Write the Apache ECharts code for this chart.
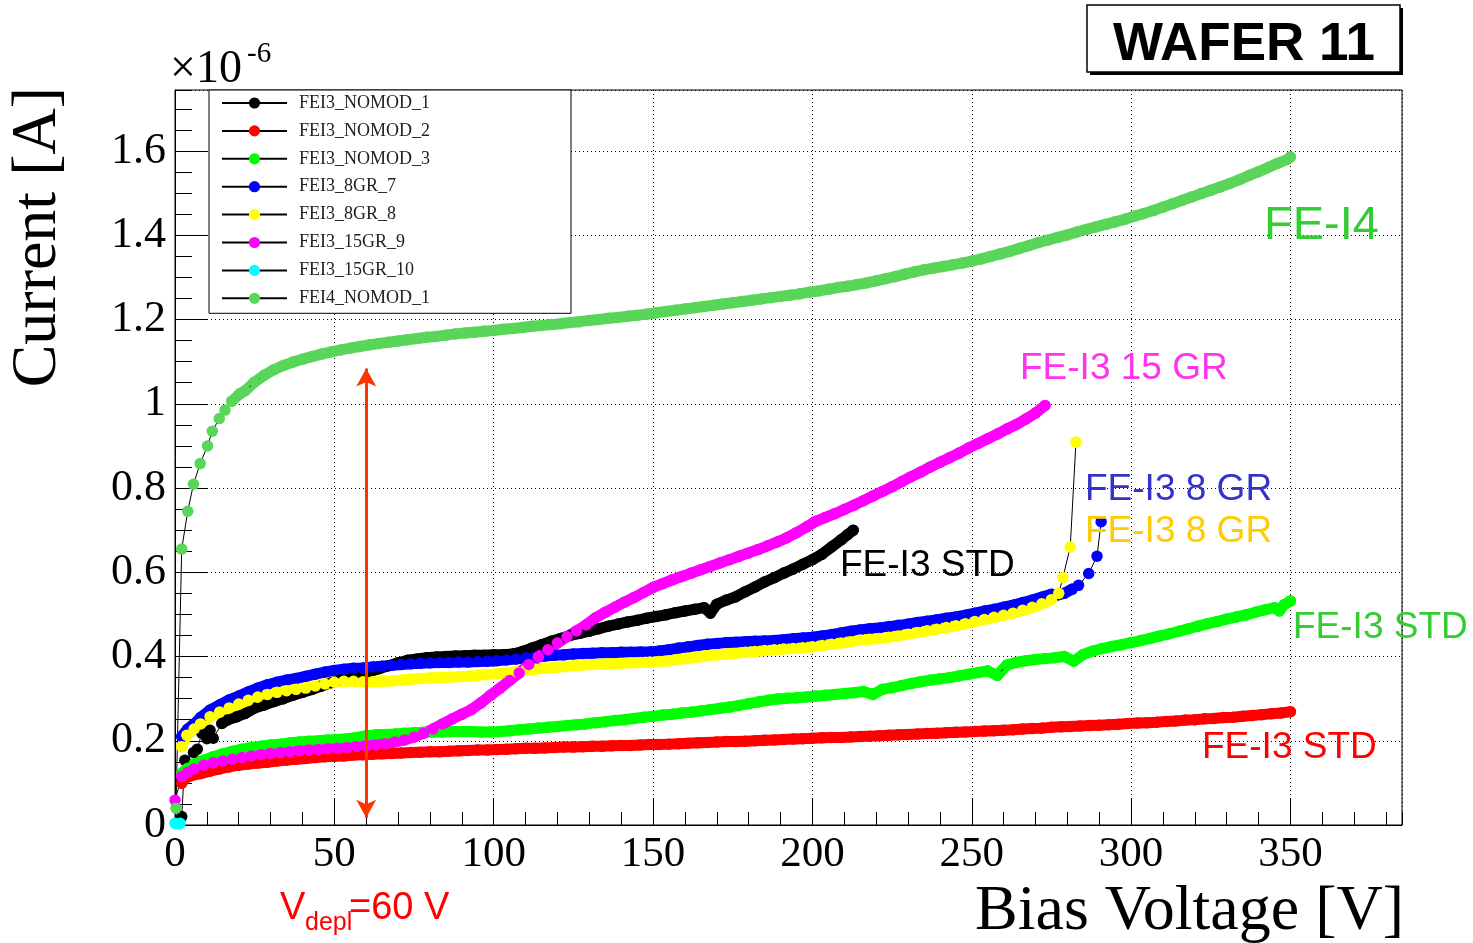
<!DOCTYPE html>
<html><head><meta charset="utf-8">
<script src="https://cdn.jsdelivr.net/npm/echarts@6/dist/echarts.min.js"></script>
<style>html,body{margin:0;padding:0;background:#fff}#c{width:1473px;height:943px}</style>
</head><body><div id="c"></div>
<script>
// ---------- DATA (current in units of 1e-6 A, voltage in V) ----------
const seriesNames = ['FEI3_NOMOD_1','FEI3_NOMOD_2','FEI3_NOMOD_3','FEI3_8GR_7','FEI3_8GR_8','FEI3_15GR_9','FEI3_15GR_10','FEI4_NOMOD_1'];
const seriesColors = ['#000000','#ff0000','#00ff00','#0000ff','#ffff00','#ff00ff','#00ffff','#59d659'];

const fei3Nomod1 = [[2.1,0.02],[3.1,0.154],[5.8,0.172],[7.0,0.180],[8.4,0.218],[10.0,0.205],[11.0,0.225],[12.0,0.206],[14.7,0.241],[16.3,0.249],[19.4,0.257],[22,0.265],[25,0.278],[28,0.285],[31,0.293],[34,0.300],[37,0.308],[40,0.315],[43,0.322],[46,0.330],[49,0.338],[52,0.345],[55,0.352],[58,0.358],[61,0.364],[64,0.371],[67,0.378],[70,0.385],[73,0.391],[76,0.394],[79,0.397],[82,0.399],[85,0.400],[88,0.401],[91,0.402],[94,0.403],[97,0.403],[100,0.404],[103,0.404],[106,0.406],[109,0.412],[112,0.420],[115,0.428],[118,0.436],[121,0.443],[124,0.450],[127,0.455],[130,0.460],[133,0.466],[136,0.472],[139,0.477],[142,0.482],[145,0.486],[148,0.491],[151,0.495],[154,0.499],[157,0.504],[160,0.508],[163,0.512],[166,0.516],[168,0.503],[170,0.524],[173,0.534],[176,0.542],[179,0.554],[182,0.565],[185,0.577],[188,0.587],[191,0.598],[194,0.608],[197,0.619],[200,0.630],[203,0.643],[206,0.660],[209,0.677],[211,0.689],[212.8,0.700]];

const fei3Nomod2 = [[2.1,0.099],[3,0.110],[5,0.117],[8,0.122],[11,0.128],[14,0.133],[17,0.138],[20,0.142],[23,0.145],[26,0.147],[29,0.149],[32,0.152],[35,0.154],[38,0.156],[41,0.158],[44,0.160],[47,0.162],[50,0.163],[53,0.164],[56,0.166],[59,0.167],[62,0.168],[65,0.169],[68,0.170],[71,0.171],[74,0.172],[77,0.173],[80,0.174],[83,0.174],[86,0.175],[89,0.176],[92,0.177],[95,0.178],[98,0.178],[101,0.179],[104,0.180],[107,0.181],[110,0.182],[113,0.182],[116,0.183],[119,0.184],[122,0.185],[125,0.185],[128,0.186],[131,0.187],[134,0.187],[137,0.188],[140,0.189],[143,0.189],[146,0.190],[149,0.191],[152,0.191],[155,0.192],[158,0.193],[161,0.194],[164,0.195],[167,0.196],[170,0.197],[173,0.198],[176,0.198],[179,0.199],[182,0.200],[185,0.201],[188,0.202],[191,0.203],[194,0.204],[197,0.205],[200,0.206],[203,0.207],[206,0.208],[209,0.208],[212,0.209],[215,0.210],[218,0.211],[221,0.212],[224,0.213],[227,0.214],[230,0.215],[233,0.216],[236,0.217],[239,0.218],[242,0.219],[245,0.220],[248,0.221],[251,0.222],[254,0.223],[257,0.224],[260,0.225],[263,0.226],[266,0.228],[269,0.229],[272,0.230],[275,0.232],[278,0.233],[281,0.234],[284,0.235],[287,0.236],[290,0.237],[293,0.238],[296,0.239],[299,0.241],[302,0.242],[305,0.243],[308,0.244],[311,0.246],[314,0.247],[317,0.249],[320,0.250],[323,0.252],[326,0.253],[329,0.255],[332,0.256],[335,0.258],[338,0.260],[341,0.262],[344,0.264],[347,0.266],[350,0.269]];

const fei3Nomod3 = [[2.1,0.123],[4,0.135],[6,0.145],[9,0.154],[12,0.162],[15,0.169],[18,0.175],[21,0.180],[24,0.184],[27,0.187],[30,0.190],[33,0.192],[36,0.195],[39,0.197],[42,0.199],[45,0.200],[48,0.202],[51,0.203],[54,0.205],[57,0.208],[60,0.212],[63,0.214],[66,0.215],[69,0.216],[72,0.218],[75,0.219],[78,0.220],[81,0.221],[84,0.221],[87,0.222],[90,0.222],[93,0.222],[96,0.221],[99,0.221],[102,0.222],[105,0.224],[108,0.226],[111,0.228],[114,0.230],[117,0.232],[120,0.234],[123,0.236],[126,0.238],[129,0.240],[132,0.243],[135,0.245],[138,0.248],[141,0.250],[144,0.253],[147,0.256],[150,0.258],[153,0.261],[156,0.263],[159,0.266],[162,0.268],[165,0.271],[168,0.274],[171,0.277],[174,0.280],[177,0.284],[180,0.288],[183,0.292],[186,0.296],[189,0.299],[192,0.301],[195,0.302],[198,0.304],[201,0.306],[204,0.308],[207,0.310],[210,0.312],[213,0.314],[216,0.317],[219,0.310],[222,0.322],[225,0.326],[228,0.331],[231,0.336],[234,0.340],[237,0.344],[240,0.347],[243,0.350],[246,0.354],[249,0.358],[252,0.362],[255,0.366],[258,0.355],[261,0.380],[264,0.386],[267,0.390],[270,0.393],[273,0.395],[276,0.397],[279,0.400],[282,0.389],[285,0.405],[288,0.413],[291,0.419],[294,0.424],[297,0.428],[300,0.433],[303,0.438],[306,0.443],[309,0.449],[312,0.454],[315,0.460],[318,0.466],[321,0.472],[324,0.478],[327,0.483],[330,0.489],[333,0.494],[336,0.499],[339,0.505],[342,0.511],[345,0.516],[346.5,0.508],[348,0.523],[350,0.532]];

const fei3Gr8_7 = [[2.1,0.210],[4,0.228],[6,0.240],[8,0.255],[11,0.273],[14,0.285],[17,0.297],[20,0.306],[23,0.316],[26,0.325],[29,0.333],[32,0.339],[35,0.344],[38,0.348],[41,0.353],[44,0.358],[47,0.363],[50,0.367],[53,0.370],[56,0.372],[59,0.373],[62,0.375],[65,0.377],[68,0.379],[71,0.381],[74,0.383],[77,0.384],[80,0.385],[83,0.386],[86,0.386],[89,0.387],[92,0.387],[95,0.388],[98,0.389],[101,0.390],[104,0.392],[107,0.394],[110,0.397],[113,0.399],[116,0.401],[119,0.403],[122,0.404],[125,0.406],[128,0.407],[131,0.408],[134,0.409],[137,0.409],[140,0.410],[143,0.410],[146,0.411],[149,0.411],[152,0.413],[155,0.416],[158,0.420],[161,0.423],[164,0.426],[167,0.429],[170,0.431],[173,0.433],[176,0.434],[179,0.435],[182,0.436],[185,0.437],[188,0.438],[191,0.440],[194,0.442],[197,0.444],[200,0.446],[203,0.449],[206,0.452],[209,0.456],[212,0.460],[215,0.463],[218,0.466],[221,0.468],[224,0.471],[227,0.474],[230,0.477],[233,0.481],[236,0.484],[239,0.487],[242,0.491],[245,0.494],[248,0.498],[251,0.503],[254,0.508],[257,0.512],[260,0.517],[263,0.522],[266,0.528],[269,0.534],[272,0.541],[275,0.548],[277,0.546],[279,0.550],[281.5,0.560],[283.5,0.569],[286.7,0.597],[289.3,0.638],[290.6,0.720]];

const fei3Gr8_8 = [[2.1,0.186],[3.7,0.213],[6,0.228],[8,0.240],[11,0.257],[14,0.268],[17,0.278],[20,0.287],[23,0.296],[26,0.304],[29,0.310],[32,0.315],[35,0.319],[38,0.322],[41,0.325],[44,0.330],[47,0.335],[50,0.339],[53,0.341],[56,0.341],[59,0.340],[62,0.340],[65,0.341],[68,0.342],[71,0.344],[74,0.346],[77,0.348],[80,0.349],[83,0.350],[86,0.351],[89,0.352],[92,0.353],[95,0.355],[98,0.357],[101,0.359],[104,0.361],[107,0.364],[110,0.367],[113,0.370],[116,0.372],[119,0.374],[122,0.376],[125,0.378],[128,0.380],[131,0.381],[134,0.382],[137,0.383],[140,0.384],[143,0.385],[146,0.386],[149,0.387],[152,0.388],[155,0.390],[158,0.393],[161,0.396],[164,0.399],[167,0.402],[170,0.404],[173,0.406],[176,0.408],[179,0.410],[182,0.412],[185,0.414],[188,0.416],[191,0.418],[194,0.419],[197,0.421],[200,0.423],[203,0.426],[206,0.429],[209,0.432],[212,0.435],[215,0.439],[218,0.441],[221,0.443],[224,0.446],[227,0.449],[230,0.453],[233,0.457],[236,0.461],[239,0.465],[242,0.469],[245,0.473],[248,0.478],[251,0.483],[254,0.488],[257,0.493],[260,0.498],[263,0.503],[266,0.510],[269,0.517],[272,0.525],[275,0.535],[277.3,0.550],[278.6,0.587],[280.9,0.660],[282.7,0.909]];

const fei3Gr15_9 = [[0,0.059],[2.1,0.115],[4,0.125],[6,0.133],[9,0.142],[12,0.148],[15,0.152],[18,0.156],[21,0.160],[24,0.164],[27,0.167],[30,0.170],[33,0.172],[36,0.174],[39,0.176],[42,0.178],[45,0.179],[48,0.181],[51,0.182],[54,0.184],[57,0.186],[60,0.188],[63,0.190],[66,0.193],[69,0.197],[72,0.202],[75,0.209],[78,0.218],[81,0.228],[84,0.240],[87,0.252],[90,0.263],[93,0.274],[96,0.290],[99,0.308],[102,0.325],[105,0.343],[108,0.361],[111,0.381],[114,0.399],[117,0.416],[120,0.432],[123,0.447],[126,0.461],[129,0.475],[132,0.492],[135,0.505],[138,0.517],[141,0.529],[144,0.540],[147,0.552],[150,0.564],[153,0.573],[156,0.582],[159,0.590],[162,0.598],[165,0.606],[168,0.614],[171,0.622],[174,0.630],[177,0.638],[180,0.646],[183,0.654],[186,0.663],[189,0.672],[192,0.682],[195,0.694],[198,0.707],[201,0.721],[204,0.730],[207,0.739],[210,0.749],[213,0.759],[216,0.770],[219,0.781],[222,0.792],[225,0.803],[228,0.815],[231,0.827],[234,0.838],[237,0.850],[240,0.861],[243,0.872],[246,0.883],[249,0.895],[252,0.906],[255,0.917],[258,0.928],[261,0.940],[264,0.951],[267,0.964],[270,0.978],[273,0.996]];

const fei3Gr15_10 = [[0,0.004],[0.8,0.003],[1.6,0.004]];

const fei4Nomod1 = [[0.3,0.040],[2.1,0.655],[4.0,0.745],[5.8,0.809],[7.9,0.858],[10.2,0.900],[11.7,0.935],[13.9,0.965],[15.7,0.985],[17.8,1.006],[20.4,1.024],[22,1.031],[25,1.052],[28,1.068],[31,1.081],[34,1.091],[37,1.099],[40,1.106],[43,1.112],[46,1.118],[49,1.123],[52,1.128],[55,1.132],[58,1.136],[61,1.140],[64,1.143],[67,1.146],[70,1.149],[73,1.152],[76,1.155],[79,1.158],[82,1.160],[85,1.163],[88,1.166],[91,1.168],[94,1.170],[97,1.172],[100,1.174],[103,1.177],[106,1.179],[109,1.181],[112,1.184],[115,1.186],[118,1.188],[121,1.190],[124,1.193],[127,1.195],[130,1.198],[133,1.200],[136,1.203],[139,1.205],[142,1.208],[145,1.210],[148,1.213],[151,1.216],[154,1.219],[157,1.222],[160,1.225],[163,1.228],[166,1.231],[169,1.234],[172,1.237],[175,1.240],[178,1.243],[181,1.246],[184,1.249],[187,1.252],[190,1.255],[193,1.258],[196,1.261],[199,1.265],[202,1.268],[205,1.272],[208,1.276],[211,1.279],[214,1.283],[217,1.287],[220,1.292],[223,1.297],[226,1.302],[229,1.308],[232,1.313],[235,1.318],[238,1.322],[241,1.326],[244,1.330],[247,1.334],[250,1.339],[253,1.344],[256,1.350],[259,1.356],[262,1.362],[265,1.369],[268,1.376],[271,1.383],[274,1.389],[277,1.395],[280,1.401],[283,1.408],[286,1.414],[289,1.420],[292,1.426],[295,1.432],[298,1.438],[301,1.445],[304,1.452],[307,1.459],[310,1.467],[313,1.475],[316,1.483],[319,1.491],[322,1.499],[325,1.507],[328,1.515],[331,1.523],[334,1.532],[337,1.542],[340,1.551],[343,1.561],[346,1.571],[349,1.580],[350,1.586]];

// voltage span in which each series was measured densely (markers merge into a band)
const denseSpans = [[14.7,212.8],[2.1,350],[2.1,350],[2.1,281.5],[2.1,277.3],[2.1,273],null,[17.8,350]];

const xRange = [0, 385];
const yRange = [0, 1.745];
const xMajor = 50, xMinor = 10;
const yMajor = 0.2, yMinor = 0.05;
const yTickLabels = ['0','0.2','0.4','0.6','0.8','1','1.2','1.4','1.6'];
const xTickLabels = ['0','50','100','150','200','250','300','350'];
const vDepl = 60;
const arrowEnds = [0.017, 1.084];

// ---------- CHART ----------
const chart = echarts.init(document.getElementById('c'), null, {renderer:'canvas', width:1473, height:943});
const serif = 'Liberation Serif, Times New Roman, serif';
const sans = 'Liberation Sans, Arial, Helvetica, sans-serif';
const allData = [fei3Nomod1, fei3Nomod2, fei3Nomod3, fei3Gr8_7, fei3Gr8_8, fei3Gr15_9, fei3Gr15_10, fei4Nomod1];

const series = [];
allData.forEach((d, i) => {
  const span = denseSpans[i];
  if (span) {
    series.push({
      name: seriesNames[i] + ' band', type: 'line',
      data: d.filter(p => p[0] >= span[0] && p[0] <= span[1]),
      xAxisIndex: 0, yAxisIndex: 0, showSymbol: false, symbol: 'none', clip: false,
      lineStyle: {color: seriesColors[i], width: 11, cap: 'round', join: 'round'},
      emphasis: {disabled: true}, silent: true, z: 3
    });
  }
  series.push({
    name: seriesNames[i], type: 'line', data: d,
    xAxisIndex: 0, yAxisIndex: 0,
    symbol: 'circle', symbolSize: 11.5, showSymbol: true,
    clip: false,
    lineStyle: {color: '#000', width: 1},
    itemStyle: {color: seriesColors[i]},
    emphasis: {disabled: true}, silent: true, z: 3
  });
});
series[1].markLine = {
  silent: true, animation: false,
  symbol: ['arrow','arrow'], symbolSize: [15, 18],
  lineStyle: {color: '#ff3300', width: 3, type: 'solid'},
  label: {show: false},
  data: [[{coord: [vDepl, arrowEnds[0]]}, {coord: [vDepl, arrowEnds[1]]}]]
};

const texts = [];
function txt(t, x, y, size, color, opts) {
  texts.push(Object.assign({type:'text', x:x, y:y, z:100, silent:true,
    style: Object.assign({text:t, fontSize:size, fontFamily:sans, fill:color, align:'left', verticalAlign:'middle'}, (opts||{}).style || {})},
    (opts||{}).el || {}));
}
txt('FE-I4', 1264, 226, 47, '#33cc33');
txt('FE-I3 15 GR', 1020, 369, 37, '#ff33ee');
txt('FE-I3 8 GR', 1085, 490, 37, '#3333cc');
txt('FE-I3 8 GR', 1085, 532, 37, '#ffcc00');
txt('FE-I3 STD', 840, 566, 37, '#000000');
txt('FE-I3 STD', 1293, 628, 37, '#33cc33');
txt('FE-I3 STD', 1202, 748, 37, '#ff0000');
txt('V', 280, 909, 38, '#ff0000');
txt('depl', 305, 923, 25, '#ff0000');
txt('=60 V', 349, 909, 38, '#ff0000');
txt('×10', 170, 70, 46, '#000', {style:{fontFamily:serif}});
txt('-6', 247, 54, 29, '#000', {style:{fontFamily:serif}});
txt('Current [A]', 38, 87, 64, '#000', {style:{fontFamily:serif, align:'right'}, el:{rotation: Math.PI/2}});
txt('Bias Voltage [V]', 1404, 912, 64, '#000', {style:{fontFamily:serif, align:'right'}});

const graphics = [
  {type:'rect', shape:{x:1090, y:8, width:313, height:67}, style:{fill:'#000'}, z:90, silent:true},
  {type:'rect', shape:{x:1087, y:5, width:313, height:67}, style:{fill:'#fff', stroke:'#000', lineWidth:1.5}, z:91, silent:true},
  {type:'text', x:1244, y:45, z:100, silent:true, style:{text:'WAFER 11', fontSize:53, fontWeight:'bold', fontFamily:sans, fill:'#000', align:'center', verticalAlign:'middle'}}
].concat(texts);

const tickLine = {show:true, inside:true, lineStyle:{color:'#000', width:1}};
chart.setOption({
  animation: false,
  backgroundColor: '#fff',
  grid: {left:175, top:90, right:71, bottom:118, show:true, borderColor:'#000', borderWidth:1, backgroundColor:'transparent', containLabel:false, outerBoundsMode:'none'},
  xAxis: [
    {type:'value', min:xRange[0], max:xRange[1], interval:xMajor, position:'bottom',
     axisLine:{show:true, onZero:false, lineStyle:{color:'#000', width:1}},
     axisTick:Object.assign({length:26}, tickLine),
     minorTick:{show:false},
     splitLine:{show:true, lineStyle:{color:'#000', width:1, type:[1,3]}},
     axisLabel:{show:true, margin:8, fontSize:43, fontFamily:serif, color:'#000', showMaxLabel:false, showMinLabel:true,
       formatter:(v)=>{const k=Math.round(v/xMajor); return Math.abs(v-k*xMajor)<1e-6 && k<xTickLabels.length ? xTickLabels[k] : '';}}},
    {type:'value', min:xRange[0], max:xRange[1], interval:xMinor, position:'bottom',
     axisLine:{show:false}, axisTick:Object.assign({length:13}, tickLine), axisLabel:{show:false}, splitLine:{show:false}}
  ],
  yAxis: [
    {type:'value', min:yRange[0], max:yRange[1], interval:yMajor, position:'left',
     axisLine:{show:true, onZero:false, lineStyle:{color:'#000', width:1}},
     axisTick:Object.assign({length:33}, tickLine),
     splitLine:{show:true, lineStyle:{color:'#000', width:1, type:[1,3]}},
     axisLabel:{show:true, margin:9, fontSize:44, fontFamily:serif, color:'#000', showMaxLabel:false, showMinLabel:true,
       formatter:(v)=>{const k=Math.round(v/yMajor); return Math.abs(v-k*yMajor)<1e-6 && k<yTickLabels.length ? yTickLabels[k] : '';}}},
    {type:'value', min:yRange[0], max:yRange[1], interval:yMinor, position:'left',
     axisLine:{show:false}, axisTick:Object.assign({length:17}, tickLine), axisLabel:{show:false}, splitLine:{show:false}}
  ],
  legend: {
    show:true, orient:'vertical', left:209, top:90, data:seriesNames,
    itemWidth:65, itemHeight:14, itemGap:9.9, padding:[4,141,6,12],
    backgroundColor:'#fff', borderColor:'#000', borderWidth:1, selectedMode:false, z:50,
    textStyle:{fontFamily:serif, fontSize:18, color:'#222', padding:[0,0,0,7]}
  },
  series: series,
  graphic: graphics
});
</script></body></html>
